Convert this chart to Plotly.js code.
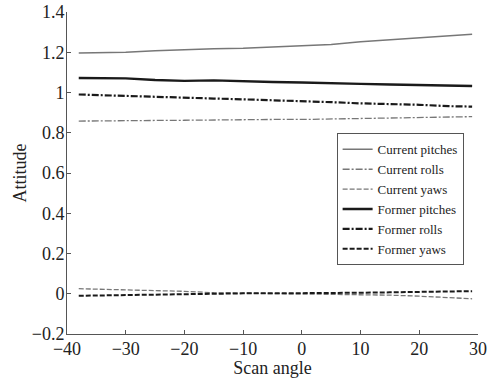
<!DOCTYPE html>
<html><head><meta charset="utf-8">
<script src="https://cdn.plot.ly/plotly-3.0.1.min.js"></script>
<style>html,body{margin:0;padding:0;background:#fff}#c{width:493px;height:378px}</style>
</head><body><div id="c"></div>
<script>
const angles = [-38, -34, -30, -25, -20, -15, -10, -5, 0, 5, 10, 15, 20, 25, 29];
const currentPitches = [1.196, 1.197, 1.200, 1.207, 1.213, 1.218, 1.220, 1.225, 1.233, 1.238, 1.252, 1.262, 1.272, 1.282, 1.290];
const currentRolls   = [0.858, 0.860, 0.860, 0.861, 0.862, 0.864, 0.865, 0.866, 0.866, 0.868, 0.873, 0.874, 0.876, 0.879, 0.880];
const currentYaws    = [0.025, 0.022, 0.020, 0.016, 0.012, 0.005, 0.003, 0.001, 0.000, -0.001, -0.003, -0.007, -0.012, -0.020, -0.025];
const formerPitches  = [1.072, 1.072, 1.070, 1.062, 1.058, 1.060, 1.055, 1.052, 1.050, 1.048, 1.043, 1.040, 1.036, 1.033, 1.032];
const formerRolls    = [0.990, 0.986, 0.983, 0.978, 0.974, 0.970, 0.966, 0.962, 0.958, 0.952, 0.946, 0.943, 0.939, 0.932, 0.930];
const formerYaws     = [-0.010, -0.008, -0.005, -0.002, 0.000, 0.001, 0.002, 0.002, 0.002, 0.004, 0.005, 0.007, 0.010, 0.012, 0.013];
const names = ["Current pitches","Current rolls","Current yaws","Former pitches","Former rolls","Former yaws"];

const gray = "#777", black = "#1a1a1a";
const dashdot = "7px,2px,2px,2px", dashed = "5px,2px";
const series = [
  [currentPitches, gray, 1.5, "solid"],
  [currentRolls, gray, 1.3, dashdot],
  [currentYaws, gray, 1.3, dashed],
  [formerPitches, black, 2.4, "solid"],
  [formerRolls, black, 2.2, dashdot],
  [formerYaws, black, 2.0, dashed]
];
const traces = series.map((s, i) => ({
  x: angles, y: s[0], name: names[i], type: "scatter", mode: "lines",
  line: {color: s[1], width: s[2], dash: s[3]}
}));
const fam = "Liberation Serif";
Plotly.newPlot("c", traces, {
  width: 493, height: 378,
  margin: {l: 67, r: 15, t: 12, b: 44},
  paper_bgcolor: "#fff", plot_bgcolor: "#fff",
  showlegend: true,
  font: {family: fam, color: "#222"},
  xaxis: {range: [-40, 30], dtick: 10, tick0: -40, ticks: "inside", ticklen: 4, tickcolor: "#555",
    showline: true, linecolor: "#555", linewidth: 1, showgrid: false, zeroline: false,
    ticklabelstandoff: -2,
    tickfont: {family: fam, size: 18, color: "#222"},
    title: {text: "Scan angle", font: {family: fam, size: 18, color: "#222"}, standoff: 0}},
  yaxis: {range: [-0.2, 1.4], dtick: 0.2, tick0: -0.2, ticks: "inside", ticklen: 4, tickcolor: "#555",
    showline: true, linecolor: "#555", linewidth: 1, showgrid: false, zeroline: false,
    ticklabelstandoff: -2,
    tickfont: {family: fam, size: 18, color: "#222"},
    title: {text: "Attitude", font: {family: fam, size: 18, color: "#222"}, standoff: 0}},
  legend: {x: 0.656, y: 0.418, xanchor: "left", yanchor: "middle", bgcolor: "#fff",
    bordercolor: "#555", borderwidth: 1, tracegroupgap: 0,
    font: {family: fam, size: 13, color: "#222"}}
}, {staticPlot: true});
</script></body></html>
